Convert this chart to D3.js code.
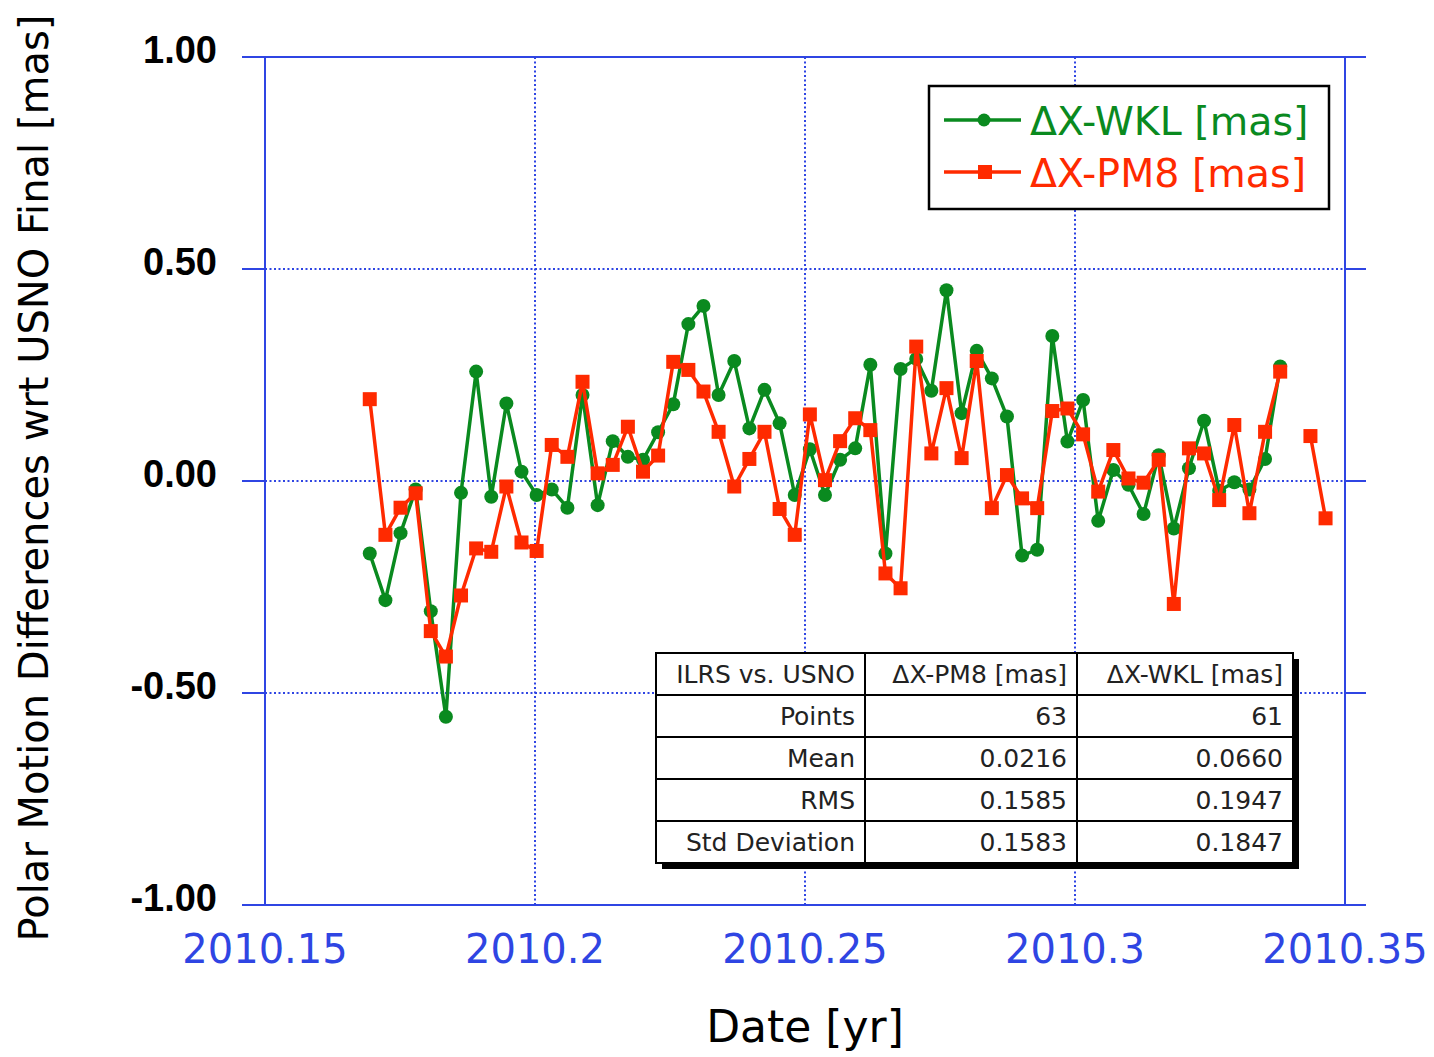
<!DOCTYPE html>
<html>
<head>
<meta charset="utf-8">
<script src="https://cdn.jsdelivr.net/npm/d3@7"></script>
<style>
  html, body { margin: 0; padding: 0; background: #fff; }
  svg { display: block; }
</style>
</head>
<body>
<svg id="chart" width="1434" height="1057"></svg>
<script>
// Epochs of the daily solutions [decimal year]
const dates = [
  2010.1694, 2010.1723, 2010.1751, 2010.1779, 2010.1807, 2010.1835, 2010.1863, 2010.1891,
  2010.1919, 2010.1947, 2010.1975, 2010.2003, 2010.2031, 2010.2060, 2010.2088, 2010.2116,
  2010.2144, 2010.2172, 2010.2200, 2010.2228, 2010.2256, 2010.2284, 2010.2312, 2010.2340,
  2010.2369, 2010.2397, 2010.2425, 2010.2453, 2010.2481, 2010.2509, 2010.2537, 2010.2565,
  2010.2593, 2010.2621, 2010.2649, 2010.2677, 2010.2706, 2010.2734, 2010.2762, 2010.2790,
  2010.2818, 2010.2846, 2010.2874, 2010.2902, 2010.2930, 2010.2958, 2010.2986, 2010.3015,
  2010.3043, 2010.3071, 2010.3099, 2010.3127, 2010.3155, 2010.3183, 2010.3211, 2010.3239,
  2010.3267, 2010.3295, 2010.3323, 2010.3352, 2010.3380, 2010.3408, 2010.3436, 2010.3464
];

// ΔX-WKL [mas] (61 solutions, first 61 epochs)
const wklValues = [
  -0.171, -0.281, -0.123, -0.020, -0.307, -0.556, -0.028,  0.258, -0.037,  0.183,
   0.022, -0.033, -0.020, -0.063,  0.203, -0.057,  0.094,  0.057,  0.050,  0.115,
   0.181,  0.370,  0.413,  0.203,  0.283,  0.124,  0.215,  0.136, -0.033,  0.075,
  -0.033,  0.050,  0.077,  0.274, -0.171,  0.264,  0.288,  0.213,  0.450,  0.160,
   0.307,  0.242,  0.152, -0.176, -0.162,  0.342,  0.093,  0.191, -0.094,  0.026,
  -0.009, -0.078,  0.061, -0.112,  0.030,  0.142, -0.023, -0.003, -0.020,  0.052,
   0.270
];

// ΔX-PM8 [mas] (63 solutions, null = no solution on that epoch)
const pm8Values = [
   0.193, -0.127, -0.063, -0.029, -0.354, -0.414, -0.270, -0.159, -0.167, -0.013,
  -0.145, -0.165,  0.085,  0.057,  0.234,  0.018,  0.038,  0.128,  0.022,  0.060,
   0.281,  0.262,  0.211,  0.116, -0.013,  0.052,  0.116, -0.066, -0.127,  0.157,
   0.002,  0.094,  0.148,  0.120, -0.218, -0.253,  0.317,  0.065,  0.219,  0.054,
   0.283, -0.064,  0.014, -0.041, -0.064,  0.165,  0.171,  0.110, -0.025,  0.073,
   0.006, -0.004,  0.050, -0.290,  0.077,  0.065, -0.045,  0.132, -0.076,  0.116,
   0.258,  null,   0.106, -0.088
];

const xTicks = [2010.15, 2010.2, 2010.25, 2010.3, 2010.35];
const xTickLabels = ["2010.15", "2010.2", "2010.25", "2010.3", "2010.35"];
const yTicks = [1.0, 0.5, 0.0, -0.5, -1.0];
const yTickLabels = ["1.00", "0.50", "0.00", "-0.50", "-1.00"];

const seriesNames = ["ΔX-WKL [mas]", "ΔX-PM8 [mas]"];

// Summary statistics table
const tableHeader = ["ILRS vs. USNO", "ΔX-PM8 [mas]", "ΔX-WKL [mas]"];
const tableRowNames = ["Points", "Mean", "RMS", "Std Deviation"];
const tablePM8 = ["63", "0.0216", "0.1585", "0.1583"];
const tableWKL = ["61", "0.0660", "0.1947", "0.1847"];

const xTitle = "Date [yr]";
const yTitle = "Polar Motion Differences wrt USNO Final [mas]";

// ---------------------------------------------------------------
const BLUE = "#2f45e3";
const GREEN = "#0a8a1f";
const RED = "#ff2a00";

const svg = d3.select("#chart");
const plotL = 265, plotR = 1345, plotT = 57, plotB = 905;

const x = d3.scaleLinear().domain([2010.15, 2010.35]).range([plotL, plotR]);
const y = d3.scaleLinear().domain([-1, 1]).range([plotB, plotT]);

// dotted grid
const grid = svg.append("g");
grid.selectAll("line.gx")
  .data(xTicks.slice(1, -1))
  .join("line")
  .attr("x1", d => x(d)).attr("x2", d => x(d))
  .attr("y1", plotT).attr("y2", plotB)
  .attr("stroke", BLUE).attr("stroke-width", 2)
  .attr("stroke-dasharray", "2,2.5");
grid.selectAll("line.gy")
  .data(yTicks.slice(1, -1))
  .join("line")
  .attr("x1", plotL).attr("x2", plotR)
  .attr("y1", d => y(d)).attr("y2", d => y(d))
  .attr("stroke", BLUE).attr("stroke-width", 2)
  .attr("stroke-dasharray", "2,2.5");

// frame with outward ticks on the value axis
const frame = svg.append("g").attr("stroke", BLUE).attr("stroke-width", 2);
frame.append("line").attr("x1", plotL).attr("x2", plotL).attr("y1", plotT).attr("y2", plotB);
frame.append("line").attr("x1", plotR).attr("x2", plotR).attr("y1", plotT).attr("y2", plotB);
frame.selectAll("line.tl")
  .data(yTicks)
  .join("line")
  .attr("x1", plotL - 23).attr("x2", plotL)
  .attr("y1", d => y(d)).attr("y2", d => y(d));
frame.selectAll("line.tr")
  .data(yTicks)
  .join("line")
  .attr("x1", plotR).attr("x2", plotR + 21)
  .attr("y1", d => y(d)).attr("y2", d => y(d));
frame.append("line").attr("x1", plotL).attr("x2", plotR).attr("y1", plotT).attr("y2", plotT);
frame.append("line").attr("x1", plotL).attr("x2", plotR).attr("y1", plotB).attr("y2", plotB);

// tick labels
svg.append("g").selectAll("text")
  .data(yTicks)
  .join("text")
  .attr("x", 217)
  .attr("y", d => y(d) + 6)
  .attr("text-anchor", "end")
  .attr("font-family", "Liberation Sans, Arial, sans-serif")
  .attr("font-weight", "bold")
  .attr("font-size", 38)
  .attr("fill", "#000")
  .text((d, i) => yTickLabels[i]);

svg.append("g").selectAll("text")
  .data(xTicks)
  .join("text")
  .attr("x", d => x(d))
  .attr("y", 963)
  .attr("text-anchor", "middle")
  .attr("font-family", "DejaVu Sans, sans-serif")
  .attr("font-size", 40)
  .attr("fill", BLUE)
  .text((d, i) => xTickLabels[i]);

// axis titles
svg.append("text")
  .attr("x", 805).attr("y", 1042)
  .attr("text-anchor", "middle")
  .attr("font-family", "DejaVu Sans, sans-serif")
  .attr("font-size", 44)
  .attr("fill", "#000")
  .text(xTitle);

svg.append("text")
  .attr("transform", "translate(48,478) rotate(-90)")
  .attr("text-anchor", "middle")
  .attr("font-family", "DejaVu Sans, sans-serif")
  .attr("font-size", 40)
  .attr("fill", "#000")
  .text(yTitle);

// series
const wkl = wklValues.map((v, i) => ({ t: dates[i], v }));
const pm8 = pm8Values.map((v, i) => ({ t: dates[i], v }));

const line = d3.line()
  .defined(d => d.v !== null)
  .x(d => x(d.t))
  .y(d => y(d.v));

const plot = svg.append("g");
plot.append("path")
  .datum(wkl)
  .attr("d", line)
  .attr("fill", "none")
  .attr("stroke", GREEN)
  .attr("stroke-width", 3.5)
  .attr("stroke-linejoin", "round");
plot.append("g").selectAll("circle")
  .data(wkl)
  .join("circle")
  .attr("cx", d => x(d.t))
  .attr("cy", d => y(d.v))
  .attr("r", 7)
  .attr("fill", GREEN);

plot.append("path")
  .datum(pm8)
  .attr("d", line)
  .attr("fill", "none")
  .attr("stroke", RED)
  .attr("stroke-width", 3.5)
  .attr("stroke-linejoin", "round");
const sq = 14;
plot.append("g").selectAll("rect")
  .data(pm8.filter(d => d.v !== null))
  .join("rect")
  .attr("x", d => x(d.t) - sq / 2)
  .attr("y", d => y(d.v) - sq / 2)
  .attr("width", sq).attr("height", sq)
  .attr("fill", RED);

// legend
const lg = svg.append("g");
lg.append("rect")
  .attr("x", 929).attr("y", 86).attr("width", 400).attr("height", 123)
  .attr("fill", "#fff").attr("stroke", "#000").attr("stroke-width", 2.5);
const legendRows = [
  { name: seriesNames[0], color: GREEN, cy: 120, mark: "circle" },
  { name: seriesNames[1], color: RED, cy: 172, mark: "square" }
];
legendRows.forEach(r => {
  lg.append("line")
    .attr("x1", 944).attr("x2", 1021)
    .attr("y1", r.cy).attr("y2", r.cy)
    .attr("stroke", r.color).attr("stroke-width", 3.5);
  if (r.mark === "circle") {
    lg.append("circle").attr("cx", 984).attr("cy", r.cy).attr("r", 6.5).attr("fill", r.color);
  } else {
    lg.append("rect").attr("x", 985 - sq / 2).attr("y", r.cy - sq / 2)
      .attr("width", sq).attr("height", sq).attr("fill", r.color);
  }
  lg.append("text")
    .attr("x", 1030).attr("y", r.cy + 15)
    .attr("font-family", "DejaVu Sans, sans-serif")
    .attr("font-size", 39.5)
    .attr("fill", r.color)
    .text(r.name);
});

// statistics table
const tb = svg.append("g");
const tx = 656, ty = 653, colEdges = [656, 865, 1077, 1293], rowH = 42;
const nRows = tableRowNames.length + 1;
const tW = colEdges[3] - colEdges[0], tH = rowH * nRows;
tb.append("rect")
  .attr("x", tx + 6).attr("y", ty + 6).attr("width", tW).attr("height", tH)
  .attr("fill", "#000");
tb.append("rect")
  .attr("x", tx).attr("y", ty).attr("width", tW).attr("height", tH)
  .attr("fill", "#fff").attr("stroke", "#000").attr("stroke-width", 2);
[colEdges[1], colEdges[2]].forEach(cx => {
  tb.append("line").attr("x1", cx).attr("x2", cx).attr("y1", ty).attr("y2", ty + tH)
    .attr("stroke", "#000").attr("stroke-width", 2);
});
d3.range(1, nRows).forEach(r => {
  tb.append("line").attr("x1", tx).attr("x2", tx + tW)
    .attr("y1", ty + r * rowH).attr("y2", ty + r * rowH)
    .attr("stroke", "#000").attr("stroke-width", 2);
});
const cells = [tableHeader].concat(
  tableRowNames.map((n, i) => [n, tablePM8[i], tableWKL[i]])
);
cells.forEach((row, r) => {
  row.forEach((txt, c) => {
    tb.append("text")
      .attr("x", colEdges[c + 1] - 10)
      .attr("y", ty + r * rowH + rowH / 2 + 9)
      .attr("text-anchor", "end")
      .attr("font-family", "DejaVu Sans, sans-serif")
      .attr("font-size", 25)
      .attr("fill", "#222")
      .text(txt);
  });
});
</script>
</body>
</html>
